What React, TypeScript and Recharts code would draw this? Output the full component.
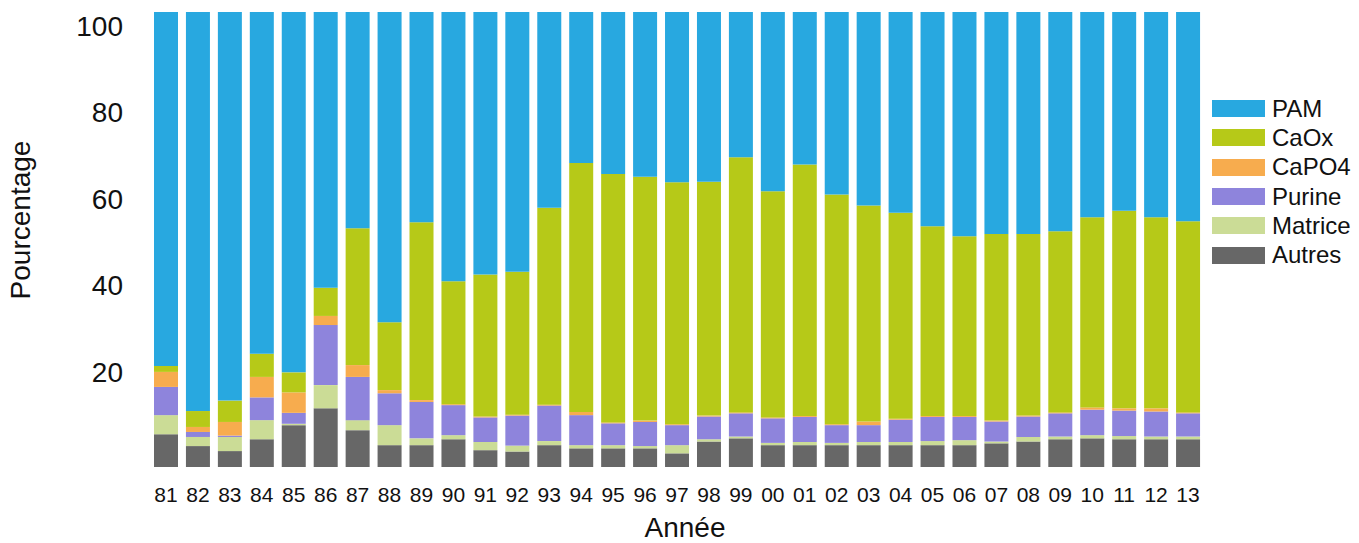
import { Bar, BarChart, Label, XAxis, YAxis } from "recharts";

const years = [
  "81", "82", "83", "84", "85", "86", "87", "88", "89", "90", "91",
  "92", "93", "94", "95", "96", "97", "98", "99", "00", "01", "02",
  "03", "04", "05", "06", "07", "08", "09", "10", "11", "12", "13",
];

const autres = [
  7.2, 4.6, 3.5, 6.1, 9.2, 12.9, 8.1, 4.8, 4.8, 6.1, 3.7,
  3.4, 4.8, 4.1, 4.1, 4.1, 3.0, 5.6, 6.3, 4.8, 4.8, 4.8,
  4.8, 4.8, 4.8, 4.8, 5.2, 5.6, 6.1, 6.3, 6.1, 6.1, 6.1,
];
const matrice = [
  4.2, 2.0, 3.1, 4.2, 0.3, 5.1, 2.2, 4.4, 1.5, 0.9, 1.8,
  1.3, 0.9, 0.7, 0.7, 0.5, 1.8, 0.5, 0.4, 0.5, 0.7, 0.5,
  0.7, 0.7, 0.9, 1.1, 0.4, 1.0, 0.6, 0.7, 0.7, 0.6, 0.6,
];
const purine = [
  6.2, 1.1, 0.3, 5.0, 2.4, 13.2, 9.5, 7.0, 8.0, 6.6, 5.4,
  6.6, 7.8, 6.6, 4.8, 5.3, 4.4, 5.0, 5.1, 5.4, 5.5, 3.9,
  3.7, 4.9, 5.3, 5.1, 4.4, 4.5, 5.1, 5.6, 5.6, 5.5, 5.1,
];
const capo4 = [
  3.3, 1.1, 3.0, 4.5, 4.5, 2.0, 2.6, 0.7, 0.4, 0.2, 0.2,
  0.2, 0.2, 0.7, 0.2, 0.3, 0.2, 0.2, 0.2, 0.2, 0.2, 0.2,
  0.8, 0.2, 0.2, 0.2, 0.2, 0.2, 0.2, 0.5, 0.5, 0.7, 0.2,
];
const caox = [
  1.3, 3.5, 4.7, 5.1, 4.4, 6.2, 30.1, 14.9, 39.1, 27.0, 31.2,
  31.4, 43.3, 54.7, 54.6, 53.6, 53.2, 51.4, 56.1, 49.7, 55.3, 50.5,
  47.5, 45.3, 41.7, 39.5, 41.0, 39.9, 39.8, 41.8, 43.4, 42.0, 42.0,
];
const pam = [
  77.8, 87.7, 85.4, 75.1, 79.2, 60.6, 47.5, 68.2, 46.2, 59.2, 57.7,
  57.1, 43.0, 33.2, 35.6, 36.2, 37.4, 37.3, 31.9, 39.4, 33.5, 40.1,
  42.5, 44.1, 47.1, 49.3, 48.8, 48.8, 48.2, 45.1, 43.7, 45.1, 46.0,
];

const yTicks = [20, 40, 60, 80, 100];

// stack order, bottom to top
const series = [
  { key: "Autres", values: autres, color: "#676767" },
  { key: "Matrice", values: matrice, color: "#cbdc96" },
  { key: "Purine", values: purine, color: "#8e84dc" },
  { key: "CaPO4", values: capo4, color: "#f7ac4e" },
  { key: "CaOx", values: caox, color: "#b6c918" },
  { key: "PAM", values: pam, color: "#28a8e0" },
];

const data = years.map((year, i) => {
  const row: Record<string, string | number> = { year };
  series.forEach((s) => {
    row[s.key] = s.values[i];
  });
  return row;
});

const FONT = "'Liberation Sans', Arial, sans-serif";

function LegendBox() {
  return (
    <div
      style={{
        position: "absolute",
        left: 1212,
        top: 94,
        fontFamily: FONT,
        fontSize: 24,
        color: "#111",
      }}
    >
      {[...series].reverse().map((s) => (
        <div
          key={s.key}
          style={{ display: "flex", alignItems: "center", height: 29.3 }}
        >
          <span
            style={{
              display: "inline-block",
              width: 53,
              height: 17,
              background: s.color,
              marginRight: 7,
            }}
          />
          <span>{s.key}</span>
        </div>
      ))}
    </div>
  );
}

export default function App() {
  return (
    <div
      style={{
        position: "absolute",
        left: 0,
        top: 0,
        width: 1359,
        height: 543,
        background: "#fff",
      }}
    >
      <BarChart
        width={1359}
        height={543}
        data={data}
        margin={{ top: 12, right: 155, bottom: 0, left: 0 }}
        barSize={24}
      >
        <XAxis
          dataKey="year"
          height={76}
          axisLine={false}
          tickLine={false}
          tickSize={0}
          tickMargin={20}
          interval={0}
          tick={{ fill: "#111", fontSize: 21, fontFamily: FONT }}
        >
          <Label
            content={({ viewBox }: any) => (
              <text
                x={viewBox.x + viewBox.width / 2 + 8}
                y={537}
                textAnchor="middle"
                fill="#111"
                fontSize={28}
                fontFamily={FONT}
              >
                Année
              </text>
            )}
          />
        </XAxis>
        <YAxis
          yAxisId="labels"
          type="number"
          domain={[-2, 103.2]}
          allowDataOverflow
          ticks={yTicks}
          width={150}
          axisLine={false}
          tickLine={false}
          tickSize={0}
          tickMargin={27}
          tick={{ fill: "#111", fontSize: 28, fontFamily: FONT }}
        >
          <Label
            content={() => (
              <text
                transform="translate(30, 220) rotate(-90)"
                textAnchor="middle"
                fill="#111"
                fontSize={28}
                fontFamily={FONT}
              >
                Pourcentage
              </text>
            )}
          />
        </YAxis>
        <YAxis
          yAxisId="data"
          domain={[0, 100]}
          hide
          width={0}
          allowDataOverflow
        />
        {series.map((s) => (
          <Bar
            key={s.key}
            yAxisId="data"
            dataKey={s.key}
            stackId="a"
            fill={s.color}
            isAnimationActive={false}
          />
        ))}
      </BarChart>
      <LegendBox />
    </div>
  );
}
